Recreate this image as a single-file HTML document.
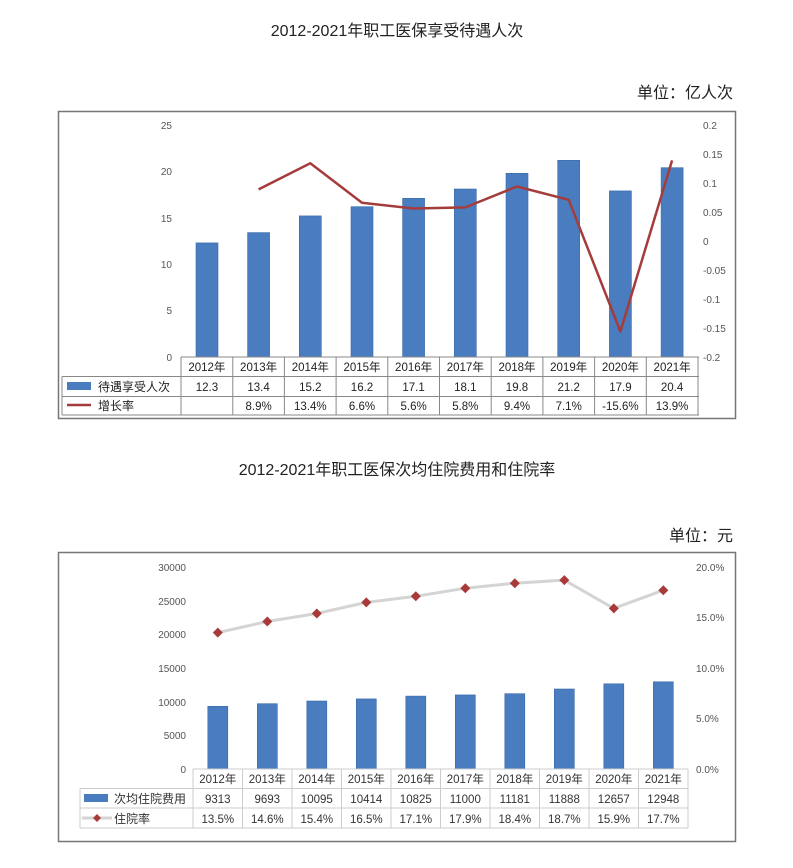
<!DOCTYPE html>
<html><head><meta charset="utf-8"><style>
body{margin:0;background:#fff;}
svg{display:block;font-family:"Liberation Sans","Noto Sans CJK SC",sans-serif;}
</style></head><body>
<svg width="793" height="868" viewBox="0 0 793 868" xmlns="http://www.w3.org/2000/svg">
<rect width="793" height="868" fill="#fff"/>
<text x="397" y="36" font-size="16" text-anchor="middle" fill="#222">2012-2021年职工医保享受待遇人次</text>
<text x="733" y="98" font-size="16" text-anchor="end" fill="#222">单位：亿人次</text>
<rect x="58.5" y="111.5" width="677" height="307" fill="none" stroke="#777" stroke-width="1.5"/>
<g font-size="10" fill="#555" text-anchor="end">
<text x="172" y="129">25</text><text x="172" y="175">20</text><text x="172" y="222">15</text><text x="172" y="268">10</text><text x="172" y="314">5</text><text x="172" y="361">0</text>
</g>
<g font-size="10" fill="#555" text-anchor="start">
<text x="703" y="129">0.2</text><text x="703" y="158">0.15</text><text x="703" y="187">0.1</text><text x="703" y="216">0.05</text><text x="703" y="245">0</text><text x="703" y="274">-0.05</text><text x="703" y="303">-0.1</text><text x="703" y="332">-0.15</text><text x="703" y="361">-0.2</text>
</g>
<g fill="#4a7dbf" stroke="#3a6aa8" stroke-width="0.6">
<rect x="196" y="242.9" width="22" height="114.1"/>
<rect x="247.6" y="232.6" width="22" height="124.4"/>
<rect x="299.3" y="215.9" width="22" height="141.1"/>
<rect x="351" y="206.7" width="22" height="150.3"/>
<rect x="402.6" y="198.3" width="22" height="158.7"/>
<rect x="454.3" y="189" width="22" height="168"/>
<rect x="506" y="173.3" width="22" height="183.7"/>
<rect x="557.7" y="160.3" width="22" height="196.7"/>
<rect x="609.4" y="190.9" width="22" height="166.1"/>
<rect x="661.1" y="167.7" width="22" height="189.3"/>
</g>
<polyline fill="none" stroke="#a53c3c" stroke-width="2.5" stroke-linejoin="round" points="258.6,189.4 310.3,163.3 362,202.7 413.6,208.5 465.3,207.4 517,186.5 568.7,199.8 620.4,331.5 672.1,160.4"/>
<g stroke="#888" stroke-width="1" fill="none">
<line x1="181" y1="357" x2="699" y2="357"/>
<line x1="62" y1="376.5" x2="699" y2="376.5"/>
<line x1="62" y1="396.5" x2="699" y2="396.5"/>
<line x1="62" y1="415" x2="699" y2="415"/>
<line x1="62" y1="376.5" x2="62" y2="415"/>
<line x1="181" y1="357" x2="181" y2="415"/><line x1="232.8" y1="357" x2="232.8" y2="415"/><line x1="284.4" y1="357" x2="284.4" y2="415"/><line x1="336.1" y1="357" x2="336.1" y2="415"/><line x1="387.8" y1="357" x2="387.8" y2="415"/><line x1="439.5" y1="357" x2="439.5" y2="415"/><line x1="491.2" y1="357" x2="491.2" y2="415"/><line x1="542.9" y1="357" x2="542.9" y2="415"/><line x1="594.6" y1="357" x2="594.6" y2="415"/><line x1="646.3" y1="357" x2="646.3" y2="415"/><line x1="698" y1="357" x2="698" y2="415"/>
</g>
<rect x="67" y="382" width="24" height="8" fill="#4a7dbf"/>
<line x1="67" y1="405" x2="91" y2="405" stroke="#a53c3c" stroke-width="2.5"/>
<g font-size="12" fill="#222">
<text x="98" y="391">待遇享受人次</text><text x="98" y="410">增长率</text>
</g>
<g font-size="11.5" fill="#222" text-anchor="middle">
<text x="206.9" y="371">2012年</text><text x="258.6" y="371">2013年</text><text x="310.3" y="371">2014年</text><text x="362" y="371">2015年</text><text x="413.6" y="371">2016年</text><text x="465.3" y="371">2017年</text><text x="517" y="371">2018年</text><text x="568.7" y="371">2019年</text><text x="620.4" y="371">2020年</text><text x="672.1" y="371">2021年</text>
<text x="206.9" y="391">12.3</text><text x="258.6" y="391">13.4</text><text x="310.3" y="391">15.2</text><text x="362" y="391">16.2</text><text x="413.6" y="391">17.1</text><text x="465.3" y="391">18.1</text><text x="517" y="391">19.8</text><text x="568.7" y="391">21.2</text><text x="620.4" y="391">17.9</text><text x="672.1" y="391">20.4</text>
<text x="258.6" y="410">8.9%</text><text x="310.3" y="410">13.4%</text><text x="362" y="410">6.6%</text><text x="413.6" y="410">5.6%</text><text x="465.3" y="410">5.8%</text><text x="517" y="410">9.4%</text><text x="568.7" y="410">7.1%</text><text x="620.4" y="410">-15.6%</text><text x="672.1" y="410">13.9%</text>
</g>

<text x="397" y="475" font-size="16" text-anchor="middle" fill="#222">2012-2021年职工医保次均住院费用和住院率</text>
<text x="733" y="541" font-size="16" text-anchor="end" fill="#222">单位：元</text>
<rect x="58.5" y="552.5" width="677" height="289" fill="none" stroke="#777" stroke-width="1.5"/>
<g font-size="10" fill="#555" text-anchor="end">
<text x="186" y="571">30000</text><text x="186" y="605">25000</text><text x="186" y="638">20000</text><text x="186" y="672">15000</text><text x="186" y="706">10000</text><text x="186" y="739">5000</text><text x="186" y="773">0</text>
</g>
<g font-size="10" fill="#555">
<text x="696" y="571">20.0%</text><text x="696" y="621">15.0%</text><text x="696" y="672">10.0%</text><text x="696" y="722">5.0%</text><text x="696" y="773">0.0%</text>
</g>
<g fill="#4a7dbf" stroke="#3a6aa8" stroke-width="0.6">
<rect x="207.8" y="706.3" width="20" height="62.7"/>
<rect x="257.3" y="703.7" width="20" height="65.3"/>
<rect x="306.8" y="701" width="20" height="68"/>
<rect x="356.3" y="698.9" width="20" height="70.1"/>
<rect x="405.8" y="696.1" width="20" height="72.9"/>
<rect x="455.3" y="694.9" width="20" height="74.1"/>
<rect x="504.8" y="693.7" width="20" height="75.3"/>
<rect x="554.3" y="689" width="20" height="80"/>
<rect x="603.8" y="683.8" width="20" height="85.2"/>
<rect x="653.3" y="681.8" width="20" height="87.2"/>
</g>
<polyline fill="none" stroke="#d4d4d4" stroke-width="3" stroke-linejoin="round" points="217.8,632.6 267.3,621.5 316.8,613.5 366.3,602.4 415.8,596.3 465.3,588.2 514.8,583.2 564.3,580.1 613.8,608.4 663.3,590.2"/>
<g fill="#a83a3a">
<path d="M217.8,627.6l5,5-5,5-5-5z"/><path d="M267.3,616.5l5,5-5,5-5-5z"/><path d="M316.8,608.5l5,5-5,5-5-5z"/><path d="M366.3,597.4l5,5-5,5-5-5z"/><path d="M415.8,591.3l5,5-5,5-5-5z"/><path d="M465.3,583.2l5,5-5,5-5-5z"/><path d="M514.8,578.2l5,5-5,5-5-5z"/><path d="M564.3,575.1l5,5-5,5-5-5z"/><path d="M613.8,603.4l5,5-5,5-5-5z"/><path d="M663.3,585.2l5,5-5,5-5-5z"/>
</g>
<g stroke="#ccc" stroke-width="1" fill="none">
<line x1="193" y1="769" x2="688" y2="769"/>
<line x1="80" y1="788.5" x2="688" y2="788.5"/>
<line x1="80" y1="808" x2="688" y2="808"/>
<line x1="80" y1="828" x2="688" y2="828"/>
<line x1="80" y1="788.5" x2="80" y2="828"/>
<line x1="193" y1="769" x2="193" y2="828"/><line x1="242.5" y1="769" x2="242.5" y2="828"/><line x1="292" y1="769" x2="292" y2="828"/><line x1="341.5" y1="769" x2="341.5" y2="828"/><line x1="391" y1="769" x2="391" y2="828"/><line x1="440.5" y1="769" x2="440.5" y2="828"/><line x1="490" y1="769" x2="490" y2="828"/><line x1="539.5" y1="769" x2="539.5" y2="828"/><line x1="589" y1="769" x2="589" y2="828"/><line x1="638.5" y1="769" x2="638.5" y2="828"/><line x1="688" y1="769" x2="688" y2="828"/>
</g>
<rect x="84" y="794" width="24" height="8" fill="#4a7dbf"/>
<line x1="82" y1="818" x2="112" y2="818" stroke="#d4d4d4" stroke-width="3"/>
<path d="M97,814l4,4-4,4-4-4z" fill="#a83a3a"/>
<g font-size="12" fill="#333">
<text x="114" y="803">次均住院费用</text><text x="114" y="823">住院率</text>
</g>
<g font-size="11.5" fill="#333" text-anchor="middle">
<text x="217.8" y="783">2012年</text><text x="267.3" y="783">2013年</text><text x="316.8" y="783">2014年</text><text x="366.3" y="783">2015年</text><text x="415.8" y="783">2016年</text><text x="465.3" y="783">2017年</text><text x="514.8" y="783">2018年</text><text x="564.3" y="783">2019年</text><text x="613.8" y="783">2020年</text><text x="663.3" y="783">2021年</text>
<text x="217.8" y="803">9313</text><text x="267.3" y="803">9693</text><text x="316.8" y="803">10095</text><text x="366.3" y="803">10414</text><text x="415.8" y="803">10825</text><text x="465.3" y="803">11000</text><text x="514.8" y="803">11181</text><text x="564.3" y="803">11888</text><text x="613.8" y="803">12657</text><text x="663.3" y="803">12948</text>
<text x="217.8" y="823">13.5%</text><text x="267.3" y="823">14.6%</text><text x="316.8" y="823">15.4%</text><text x="366.3" y="823">16.5%</text><text x="415.8" y="823">17.1%</text><text x="465.3" y="823">17.9%</text><text x="514.8" y="823">18.4%</text><text x="564.3" y="823">18.7%</text><text x="613.8" y="823">15.9%</text><text x="663.3" y="823">17.7%</text>
</g>
</svg>
</body></html>
